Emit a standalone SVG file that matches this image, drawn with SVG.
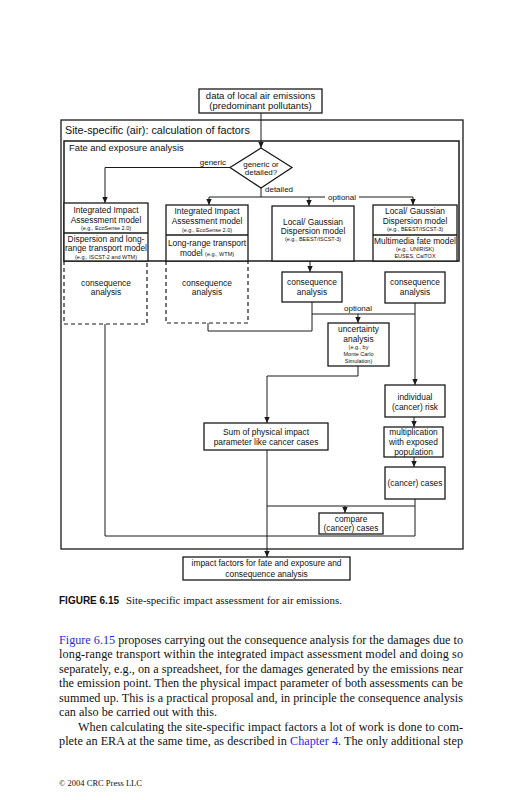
<svg xmlns="http://www.w3.org/2000/svg" width="518" height="800" viewBox="0 0 518 800">
<style>
.b{fill:#fff;stroke:#1a1a1a;stroke-width:1.3}
.f{fill:none;stroke:#1a1a1a;stroke-width:1.3}
.d{fill:none;stroke:#1a1a1a;stroke-width:1.2;stroke-dasharray:4,3}
.c{fill:none;stroke:#1a1a1a;stroke-width:1}
.ca{fill:none;stroke:#1a1a1a;stroke-width:1;marker-end:url(#ah)}
text{font-family:"Liberation Sans",Arial,sans-serif;fill:#111}
.t{font-size:8.4px;text-anchor:middle}
.s{font-size:5.5px;text-anchor:middle}
.ss{font-size:5.5px}
.l{font-size:8px}
.body{font-family:"Liberation Serif","Times New Roman",serif;font-size:12.2px}
.lnk{fill:#2b2bdd}
</style>
<defs>
<marker id="ah" viewBox="0 0 6 6" refX="6" refY="3" markerWidth="6" markerHeight="6" markerUnits="userSpaceOnUse" orient="auto">
<path d="M0,0.3 L6,3 L0,5.7 z" fill="#1a1a1a"/>
</marker>
</defs>

<g id="connectors">
<line class="ca" x1="261" y1="113" x2="261" y2="148"/>
<polyline class="ca" points="230,167.5 105,167.5 105,203"/>
<line class="c" x1="261" y1="188" x2="261" y2="197"/>
<line class="c" x1="209" y1="197" x2="325" y2="197"/>
<line class="c" x1="359" y1="197" x2="413" y2="197"/>
<line class="ca" x1="209" y1="197" x2="209" y2="205"/>
<line class="ca" x1="309" y1="197" x2="309" y2="206"/>
<line class="ca" x1="413" y1="197" x2="413" y2="205"/>
<line class="ca" x1="310" y1="261" x2="310" y2="272"/>
<polyline class="c" points="312,302 312,331 208,331 208,323"/>
<line class="c" x1="312" y1="314" x2="415" y2="314"/>
<line class="ca" x1="358" y1="314" x2="358" y2="323"/>
<line class="ca" x1="415" y1="303" x2="415" y2="385"/>
<polyline class="ca" points="358,366 358,376 267,376 267,423"/>
<line class="ca" x1="414" y1="417" x2="414" y2="427"/>
<line class="ca" x1="414" y1="457" x2="414" y2="467"/>
<polyline class="c" points="415,499 415,536 105,536 105,324"/>
<line class="c" x1="267" y1="506" x2="415" y2="506"/>
<line class="ca" x1="345" y1="506" x2="345" y2="513"/>
<line class="ca" x1="267" y1="450" x2="267" y2="557"/>
<text class="l" x="226" y="165" text-anchor="end">generic</text>
<text class="l" x="265" y="192">detailed</text>
<text class="l" x="342" y="200" text-anchor="middle">optional</text>
<text class="l" x="358" y="311" text-anchor="middle">optional</text>
</g>

<g id="outer">
<rect class="f" x="61" y="120" width="402" height="429"/>
<text x="65" y="134" style="font-size:10.8px">Site-specific (air): calculation of factors</text>
</g>
<g id="fate">
<rect class="f" x="64" y="141" width="395" height="120" style="stroke-width:1.5"/>
<text x="69" y="151" style="font-size:9.4px">Fate and exposure analysis</text>
</g>

<g id="emissions">
<rect class="b" x="199" y="89" width="123" height="24"/>
<text x="260.5" y="98.5" text-anchor="middle" style="font-size:9.5px">data of local air emissions</text>
<text x="260.5" y="108.5" text-anchor="middle" style="font-size:9.5px">(predominant pollutants)</text>
</g>

<g id="decision">
<polygon class="b" points="261,148 292,167.5 261,188 230,167.5"/>
<text class="l" x="261" y="167" text-anchor="middle">generic or</text>
<text class="l" x="261" y="174.5" text-anchor="middle">detailed?</text>
</g>

<g id="model1">
<rect class="b" x="64" y="203" width="84" height="58"/>
<line class="f" x1="64" y1="233" x2="148" y2="233"/>
<text class="t" x="106" y="213">Integrated Impact</text>
<text class="t" x="106" y="223">Assessment model</text>
<text class="s" x="106" y="230">(e.g., EcoSense 2.0)</text>
<text class="t" x="106" y="242">Dispersion and long-</text>
<text class="t" x="106" y="251">range transport model</text>
<text class="s" x="106" y="258.5">(e.g., ISCST-2 and WTM)</text>
</g>

<g id="model2">
<rect class="b" x="166" y="205" width="82" height="56"/>
<line class="f" x1="166" y1="235" x2="248" y2="235"/>
<text class="t" x="207" y="214">Integrated Impact</text>
<text class="t" x="207" y="224">Assessment model</text>
<text class="s" x="207" y="232">(e.g., EcoSense 2.0)</text>
<text class="t" x="207" y="246">Long-range transport</text>
<text class="t" x="207" y="256">model <tspan class="ss">(e.g., WTM)</tspan></text>
</g>

<g id="model3">
<rect class="b" x="272" y="206" width="82" height="55"/>
<text class="t" x="313" y="225">Local/ Gaussian</text>
<text class="t" x="313" y="234">Dispersion model</text>
<text class="s" x="313" y="240.5">(e.g., BEEST/ISCST-3)</text>
</g>

<g id="model4">
<rect class="b" x="373" y="205" width="84" height="56"/>
<line class="f" x1="373" y1="235" x2="457" y2="235"/>
<text class="t" x="415" y="214">Local/ Gaussian</text>
<text class="t" x="415" y="224">Dispersion model</text>
<text class="s" x="415" y="230.5">(e.g., BEEST/ISCST-3)</text>
<text class="t" x="415" y="244">Multimedia fate model</text>
<text class="s" x="415" y="251">(e.g., UNIRISK)</text>
<text class="s" x="415" y="257.5">EUSES, CalTOX</text>
</g>

<g id="conseq1">
<polyline class="d" points="64,261 64,324 147,324 147,261"/>
<text class="t" x="106" y="286">consequence</text>
<text class="t" x="106" y="295">analysis</text>
</g>
<g id="conseq2">
<polyline class="d" points="166,261 166,323 248,323 248,261"/>
<text class="t" x="207" y="286">consequence</text>
<text class="t" x="207" y="295">analysis</text>
</g>
<g id="conseq3">
<rect class="b" x="282" y="272" width="60" height="30"/>
<text class="t" x="312" y="285">consequence</text>
<text class="t" x="312" y="295">analysis</text>
</g>
<g id="conseq4">
<rect class="b" x="385" y="272" width="60" height="31"/>
<text class="t" x="415" y="285">consequence</text>
<text class="t" x="415" y="295">analysis</text>
</g>

<g id="uncertainty">
<rect class="b" x="328" y="323" width="61" height="43"/>
<text class="t" x="358.5" y="332">uncertainty</text>
<text class="t" x="358.5" y="342">analysis</text>
<text class="s" x="358.5" y="349">(e.g., by</text>
<text class="s" x="358.5" y="356">Monte Carlo</text>
<text class="s" x="358.5" y="363">Simulation)</text>
</g>

<g id="individual">
<rect class="b" x="385" y="385" width="60" height="32"/>
<text class="t" x="415" y="400">individual</text>
<text class="t" x="415" y="410">(cancer) risk</text>
</g>

<g id="multiplication">
<rect class="b" x="384" y="427" width="59" height="30"/>
<text class="t" x="413.5" y="435">multiplication</text>
<text class="t" x="413.5" y="445">with exposed</text>
<text class="t" x="413.5" y="455">population</text>
</g>

<g id="cases">
<rect class="b" x="385" y="467" width="60" height="32"/>
<text class="t" x="415" y="486">(cancer) cases</text>
</g>

<g id="sum">
<rect class="b" x="204" y="423" width="124" height="27"/>
<text class="t" x="266" y="435">Sum of physical impact</text>
<text class="t" x="266" y="445">parameter like cancer cases</text>
</g>

<g id="compare">
<rect class="b" x="319" y="513" width="64" height="21"/>
<text class="t" x="351" y="521.5">compare</text>
<text class="t" x="351" y="531">(cancer) cases</text>
</g>

<g id="result">
<rect class="b" x="183" y="557" width="167" height="23"/>
<text class="t" x="266.5" y="566">impact factors for fate and exposure and</text>
<text class="t" x="266.5" y="576.5">consequence analysis</text>
</g>

<g id="caption">
<text x="59" y="604" style="font-size:10px;font-weight:bold">FIGURE 6.15</text>
<text x="126" y="604" style="font-family:'Liberation Serif','Times New Roman',serif;font-size:10.9px">Site-specific impact assessment for air emissions.</text>
</g>

<g id="bodytext">
<text class="body" x="59" y="644" textLength="404" lengthAdjust="spacing"><tspan class="lnk">Figure 6.15</tspan> proposes carrying out the consequence analysis for the damages due to</text>
<text class="body" x="59" y="658.4" textLength="404" lengthAdjust="spacing">long-range transport within the integrated impact assessment model and doing so</text>
<text class="body" x="59" y="672.9" textLength="404" lengthAdjust="spacing">separately, e.g., on a spreadsheet, for the damages generated by the emissions near</text>
<text class="body" x="59" y="687.3" textLength="404" lengthAdjust="spacing">the emission point. Then the physical impact parameter of both assessments can be</text>
<text class="body" x="59" y="701.7" textLength="404" lengthAdjust="spacing">summed up. This is a practical proposal and, in principle the consequence analysis</text>
<text class="body" x="59" y="716.1">can also be carried out with this.</text>
<text class="body" x="78" y="730.6" textLength="385" lengthAdjust="spacing">When calculating the site-specific impact factors a lot of work is done to com-</text>
<text class="body" x="59" y="745" textLength="404" lengthAdjust="spacing">plete an ERA at the same time, as described in <tspan class="lnk">Chapter 4</tspan>. The only additional step</text>
<text x="59" y="786" style="font-family:'Liberation Serif','Times New Roman',serif;font-size:8.5px">© 2004 CRC Press LLC</text>
</g>
</svg>
